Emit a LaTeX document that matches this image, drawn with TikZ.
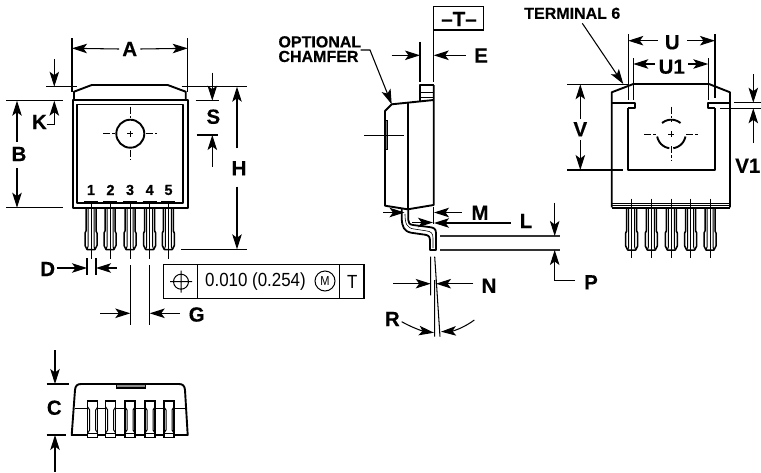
\documentclass[tikz,border=0pt]{standalone}
\usepackage{graphicx}
\usepackage{fontspec}
\setmainfont{Liberation Sans}[BoldFeatures={FakeBold=0.4}]
\usetikzlibrary{arrows.meta}
\tikzset{
  thin line/.style={line width=1.05pt,draw=black},
  outline/.style={line width=1.9pt,line join=round},
  dimarrow/.style={line width=1.05pt,draw=black,-{Stealth[length=15pt,width=9.5pt,inset=3.5pt]}},
  lab/.style={font=\fontsize{20.5}{20.5}\selectfont\bfseries,inner sep=0pt},
  smalllab/.style={font=\fontsize{16}{16}\selectfont\bfseries,inner sep=0pt},
  pinnum/.style={font=\fontsize{14.5}{14.5}\selectfont\bfseries,inner sep=0pt},
  regtext/.style={font=\fontsize{19}{19}\selectfont,inner sep=0pt},
  dashcentre/.style={line width=0.9pt,dash pattern=on 7pt off 2pt on 2.5pt off 2pt},
}
\newcommand{\onepin}[5]{% x, ytop, ybot, ystep, centreline bottom
  \draw[line width=1.5pt,line join=round] (#1-5,#2) -- (#1-5,#4) -- (#1-6,#4+2) -- (#1-6,#3-4) -- (#1-4,#3) -- (#1+4,#3) -- (#1+6,#3-4) -- (#1+6,#4+2) -- (#1+5,#4) -- (#1+5,#2);
  \draw[line width=1pt] (#1-3,#2) -- (#1-3,#3-3) -- (#1-4,#3);
  \draw[line width=1pt] (#1+3,#2) -- (#1+3,#3-3) -- (#1+4,#3);
  \draw[line width=0.9pt] (#1,#2-7) -- (#1,#5);
}
\begin{document}
\begin{tikzpicture}[x=1pt,y=-1pt]
\useasboundingbox (0,0) rectangle (761,472);
\fill[white] (0,0) rectangle (761,472);
% ---------- front view
\draw[outline] (74,99) -- (74,91.7) -- (91.7,85) -- (167.7,85) -- (185.7,91.7) -- (185.7,99);
\draw[outline] (72.7,100) rectangle (187.7,207.7);
\draw[outline] (77.3,104.5) -- (77.3,203) -- (183.3,203) -- (183.3,104.5) -- cycle;
\foreach \x in {91,110,130,149.7,168.3}{
  \draw[line width=2.2pt] (\x-7,202.4) -- (\x+7,202.4);
}
\draw[line width=1.9pt] (130.3,133.7) circle (14pt);
\draw[line width=0.9pt] (127.3,133.7) -- (133.3,133.7) (130.3,130.7) -- (130.3,136.7);
\draw[dashcentre] (130.3,106.7) -- (130.3,118) (130.3,150) -- (130.3,160);
\draw[dashcentre] (103.3,133.7) -- (115,133.7) (146,133.7) -- (156.7,133.7);
\node[pinnum] (n1) at (91,190) {1};
\node[pinnum] (n2) at (110.5,190) {2};
\node[pinnum] (n3) at (130,190) {3};
\node[pinnum] (n4) at (149.7,190) {4};
\node[pinnum] (n5) at (168.5,190) {5};
\foreach \x in {91,110,130,149.7,168.3}{ \onepin{\x}{208}{249.5}{231}{259} }
% A
\draw[thin line] (72,38.3) -- (72,92) (187.7,38.3) -- (187.7,92);
\node[lab] (A) at (129.7,49) {A};
\draw[dimarrow] (A.west) ++(-3,0) -- (72,48.3);
\draw[dimarrow] (A.east) ++(3,0) -- (187.7,48.3);
% K
\draw[thin line] (46,86.7) -- (76.7,86.7) (6,100.7) -- (63.3,100.7);
\draw[dimarrow] (54.3,59.3) -- (54.3,86.7);
\draw[dimarrow] (46.7,124.3) -- (54.3,124.3) -- (54.3,100.7);
\node[lab] (K) at (39.3,122) {K};
% B
\node[lab] (B) at (19,154) {B};
\draw[thin line] (6,207.7) -- (63.3,207.7);
\draw[dimarrow] (17,141.7) -- (17,100.7);
\draw[dimarrow] (17,168.3) -- (17,207.7);
% S
\draw[thin line] (181.7,86.7) -- (247.3,86.7) (195.7,100.7) -- (219,100.7) (196.7,135) -- (218,135);
\draw[dimarrow] (212.3,72.7) -- (212.3,100.7);
\draw[dimarrow] (212.3,166.7) -- (212.3,135);
\node[lab] (S) at (213.3,116.7) {S};
% H
\node[lab] (H) at (239,168.3) {H};
\draw[thin line] (181,249.3) -- (247.3,249.3);
\draw[dimarrow] (237,148.3) -- (237,86.7);
\draw[dimarrow] (237,186.7) -- (237,249.3);
% D
\draw[thin line] (87,258) -- (87,275) (96,258) -- (96,275);
\node[lab] (D) at (47.7,269) {D};
\draw[dimarrow] (56.7,268) -- (87,268);
\draw[dimarrow] (116.7,268) -- (96,268);
% G
\draw[thin line] (130.3,265) -- (130.3,325) (149.7,265) -- (149.7,325);
\draw[dimarrow] (100,313.3) -- (130.3,313.3);
\draw[dimarrow] (180,313.3) -- (149.7,313.3);
\node[lab] (G) at (196.7,314.5) {G};
% feature control frame
\draw[line width=1.2pt] (163.3,264.7) rectangle (364,298.7) (197.3,264.7) -- (197.3,298.7) (339.3,264.7) -- (339.3,298.7);
\draw[line width=1pt] (181,281.7) circle (7.5pt) (170,281.7) -- (192,281.7) (181,270.5) -- (181,292.5);
\node[regtext] (tol) at (255.5,282) {\scalebox{0.89}[1]{0.010 (0.254)}};
\draw[line width=1pt] (325,281) circle (10pt);
\node[font=\fontsize{13}{13}\selectfont,inner sep=0pt] (Mc) at (325,281) {\scalebox{0.85}[1]{M}};
\node[regtext] (Tf) at (352.3,282) {\scalebox{0.89}[1]{T}};
% ---------- side view
\draw[line width=1.2pt] (433.7,6.7) rectangle (483.3,30);
\node[lab] (Tbox) at (459,19) {–T–};
\draw[thin line] (433.7,30) -- (433.7,81.7) (420,41.7) -- (420,81.7);
\draw[dimarrow] (391.7,55.3) -- (420,55.3);
\draw[dimarrow] (465.7,55.3) -- (433.7,55.3);
\node[lab] (E) at (481,55.5) {E};
\draw[outline] (420,101.5) -- (420,85) -- (433.7,85);
\draw[line width=1.3pt] (420,92.3) -- (433.7,92.3) (420,97.5) -- (433.7,97.5);
\draw[outline] (433.7,85) -- (433.7,205) -- (407.7,209.3) -- (385,205.7) -- (385,111) -- (391.7,104.3) -- (433.7,100);
\draw[outline] (407.7,103) -- (407.7,209.3);
\fill[black!55] (385,120.7) rectangle (387.7,149.3);
\draw[line width=0.9pt] (385,120.7) rectangle (387.7,149.3);
\draw[thin line] (364.3,135.3) -- (404.3,135.3);
\node[smalllab,align=left,anchor=north west,font=\fontsize{16}{14.6}\selectfont\bfseries] (opt) at (278.3,36) {OPTIONAL\\CHAMFER};
\draw[dimarrow] (360.7,50) -- (370,50) -- (391.7,104.3);
% lead
\draw[line width=1.8pt,line join=round] (401.7,209) -- (401.7,218) .. controls (402,227) and (404,231) .. (411,232.7) -- (425,234.7) .. controls (429,235.3) and (430,237) .. (430,241) -- (430,250) -- (436,250) -- (436,233) .. controls (436,228.5) and (433.5,227.5) .. (429,227) -- (413,225) .. controls (409.5,224.5) and (408.3,223) .. (408.3,220) -- (408.3,209);
\draw[line width=0.6pt] (405,214) .. controls (405,224) and (407,228) .. (414,229) -- (426,230.8) .. controls (431,231.5) and (433,233) .. (433,238) -- (433,248);
% M
\draw[thin line] (433.5,207) -- (433.5,224);
\draw[dimarrow] (383.3,212.5) -- (404.5,212.5);
\draw[dimarrow] (461.7,212.5) -- (434,212.5);
\node[lab] (M) at (480,212.7) {M};
% L
\draw[dimarrow] (510.7,223) -- (434,223);
\draw[dimarrow] (412,222.5) -- (433,222.5);
\node[lab] (L) at (526,221) {L};
% P
\draw[line width=1.4pt,black!80] (440,236) -- (560,236) (440,250) -- (560,250);
\draw[dimarrow] (554.7,202.7) -- (554.7,236);
\draw[dimarrow] (575,280.7) -- (554.7,280.7) -- (554.7,250);
\node[lab] (P) at (591,282.3) {P};
% N
\draw[thin line] (430.7,256.7) -- (430.7,295.3) (434.7,280) -- (434.7,336.7) (434.7,256.7) -- (440,336.7);
\draw[dimarrow] (393.3,283.7) -- (430.7,283.7);
\draw[dimarrow] (473.3,283.7) -- (436,283.7);
\node[lab] (N) at (489,285.7) {N};
% R
\node[lab] (R) at (392.3,319) {R};
\draw[dimarrow] (401.7,321.7) .. controls (411,327) and (422,331) .. (434,332.7);
\draw[dimarrow] (474.3,320) .. controls (465,327) and (454,331) .. (441,331.7);
% ---------- right view
\draw[outline] (611.7,207.3) -- (611.7,92.3) -- (633.3,84) -- (709,84) -- (730,92.3) -- (730,207.3);
\draw[outline] (611.7,203.5) -- (730,203.5);
\draw[line width=1pt] (611.7,205.8) -- (730,205.8);
\draw[outline] (611.7,208) -- (730,208);
\draw[outline] (628.3,108.3) -- (628.3,170) -- (715,170) -- (715,108.3);
\draw[outline] (611.7,102.7) -- (635,102.7) -- (635,108.3) -- (628.3,108.3);
\draw[outline] (730,102.7) -- (708.3,102.7) -- (708.3,108.3) -- (715,108.3);
\draw[line width=1.9pt,domain=50:130,samples=20] plot ({671.3+14.3*cos(\x)},{134-14.3*sin(\x)});
\draw[line width=1.9pt,domain=190:262,samples=20] plot ({671.3+14.3*cos(\x)},{134-14.3*sin(\x)});
\draw[line width=1.9pt,domain=278:350,samples=20] plot ({671.3+14.3*cos(\x)},{134-14.3*sin(\x)});
\draw[line width=0.9pt] (668.3,134) -- (674.3,134) (671.3,131) -- (671.3,137);
\draw[dashcentre] (671.3,106.7) -- (671.3,122) (671.3,146) -- (671.3,160);
\draw[dashcentre] (644,134) -- (656,134) (686,134) -- (698.3,134);
\foreach \x in {631.7,651.3,671.3,690.7,710}{ \onepin{\x}{208}{250}{231}{257.7} }
\foreach \x in {631.7,651.3,671.3,690.7,710}{ \draw[line width=0.9pt] (\x,198.7) -- (\x,208); }
% V
\draw[thin line] (567.3,84.3) -- (628,84.3) (567.3,170) -- (623.3,170);
\node[lab] (V) at (580.3,129.3) {V};
\draw[dimarrow] (580.3,119) -- (580.3,84.3);
\draw[dimarrow] (580.3,140) -- (580.3,170);
% U
\draw[thin line] (628.3,34.3) -- (628.3,100) (715,34.3) -- (715,98);
\node[lab] (U) at (672.3,42.3) {U};
\draw[dimarrow] (657.5,40.7) -- (628.3,40.7);
\draw[dimarrow] (687,40.7) -- (715,40.7);
% U1
\draw[thin line] (633.3,58.3) -- (633.3,100) (708.3,58.3) -- (708.3,100);
\node[lab] (Uone) at (671.7,66.7) {U1};
\draw[dimarrow] (655,64) -- (633.3,64);
\draw[dimarrow] (688.3,64) -- (708.3,64);
% Terminal 6
\node[smalllab] (term) at (572.3,13.3) {TERMINAL 6};
\draw[dimarrow] (582.3,23.3) -- (623.3,84);
% V1
\draw[thin line] (734,102.7) -- (761,102.7) (720,108.3) -- (761,108.3);
\draw[dimarrow] (753.3,74) -- (753.3,102.7);
\draw[dimarrow] (753.3,143) -- (753.3,108.3);
\node[lab,anchor=east] (Vone) at (760.5,165.7) {V1};
% ---------- bottom view
\draw[outline] (71.7,435) -- (75,390) .. controls (75.4,386) and (77,384) .. (81,384) -- (179,384) .. controls (183,384) and (184.6,386) .. (185,390) -- (187.7,435) -- cycle;
\draw[line width=1.2pt] (75,408.3) -- (185,408.3);
\fill[black!45] (116.7,384) rectangle (145.7,388);
\draw[line width=1.2pt] (116.7,384) rectangle (145.7,388);
\foreach \x in {92.7,110.7,130,150,169}{
  \fill[white] (\x-5,401) rectangle (\x+5,437.7);
  \draw[line width=1.5pt] (\x-5,401) rectangle (\x+5,437.7);
  \draw[line width=1pt] (\x-5,433) -- (\x+5,433);
  \draw[line width=1pt] (\x-5,407) -- (\x-3,410) -- (\x-3,430) -- (\x-5,433);
  \draw[line width=1pt] (\x+5,407) -- (\x+3,410) -- (\x+3,430) -- (\x+5,433);
}
\draw[thin line] (46.7,384) -- (69.3,384) (46.7,435) -- (65.7,435);
\draw[dimarrow] (55,350) -- (55,384);
\draw[dimarrow] (55,471.7) -- (55,435);
\node[lab] (C) at (54.3,407.7) {C};
\end{tikzpicture}
\end{document}
